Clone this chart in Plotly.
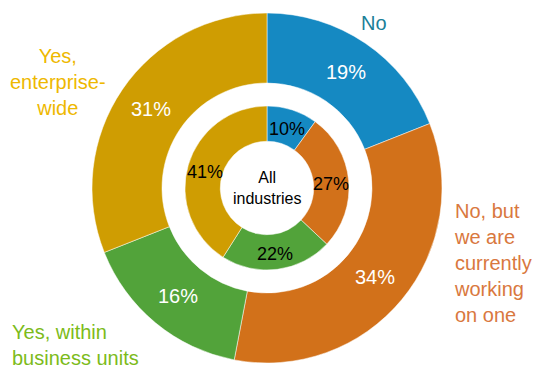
import math
import plotly.graph_objects as go

# Survey answers (outer ring) and the all-industries average (inner ring)
categories = ["No", "No, but we are currently working on one",
              "Yes, within business units", "Yes, enterprise-wide"]
outer_values = [19, 34, 16, 31]
inner_values = [10, 27, 22, 41]
center_label = "All<br>industries"

slice_colors = ["#1589c2", "#d2711a", "#52a33a", "#cf9d02"]
label_colors = ["#1b7f98", "#d9783e", "#7cbb1a", "#eeb800"]

W, H = 533, 369
cx, cy = 267, 188          # ring centre in pixels (from top-left)
R_out, hole_out = 175, 0.60
R_in, hole_in = 82, 0.57
FONT = "Liberation Sans, Arial, sans-serif"


def dom(r):
    return dict(x=[(cx - r) / W, (cx + r) / W],
                y=[(H - cy - r) / H, (H - cy + r) / H])


fig = go.Figure()
fig.add_trace(go.Pie(
    labels=categories, values=outer_values, hole=hole_out, sort=False,
    direction="clockwise", rotation=0, domain=dom(R_out),
    marker=dict(colors=slice_colors, line=dict(color="white", width=0.5)),
    textinfo="none", hoverinfo="label+percent", showlegend=False,
))
fig.add_trace(go.Pie(
    labels=categories, values=inner_values, hole=hole_in, sort=False,
    direction="clockwise", rotation=0, domain=dom(R_in),
    marker=dict(colors=slice_colors, line=dict(color="white", width=0.5)),
    textinfo="none", hoverinfo="label+percent", showlegend=False,
))


def ring_labels(values, r_outer, hole, color, size, dy=0):
    total = sum(values)
    r_mid = r_outer * (1 + hole) / 2
    start = 0.0
    for v in values:
        mid = (start + v / 2) / total * 2 * math.pi
        start += v
        px = cx + r_mid * math.sin(mid)
        py = cy - r_mid * math.cos(mid) + dy
        fig.add_annotation(x=px / W, y=1 - py / H, xref="paper", yref="paper",
                           xanchor="center", yanchor="middle",
                           text=f"{round(v / total * 100)}%", showarrow=False,
                           font=dict(family=FONT, size=size, color=color))


ring_labels(outer_values, R_out, hole_out, "white", 20)
ring_labels(inner_values, R_in, hole_in, "black", 18, dy=2)

fig.add_annotation(x=cx / W, y=1 - cy / H, xref="paper", yref="paper",
                   xanchor="center", yanchor="middle",
                   text=center_label, showarrow=False,
                   font=dict(family=FONT, size=16, color="black"))

# Category names placed around the rings
name_specs = [
    ("No", 374, 23, "center", label_colors[0]),
    ("No, but<br>we are<br>currently<br>working<br>on one", 452, 263, "left", label_colors[1]),
    ("Yes, within<br>business units", 10, 345, "left", label_colors[2]),
    ("Yes,<br>enterprise-<br>wide", 58, 82, "center", label_colors[3]),
]
for text, x, y, align, col in name_specs:
    fig.add_annotation(x=x / W, y=1 - y / H, xref="paper", yref="paper",
                       text=text, showarrow=False, align=align,
                       xanchor="center" if align == "center" else "left",
                       yanchor="middle",
                       font=dict(family=FONT, size=20, color=col))

fig.update_layout(width=W, height=H, margin=dict(l=0, r=0, t=0, b=0),
                  paper_bgcolor="white", plot_bgcolor="white")
fig.write_html("out.html")
